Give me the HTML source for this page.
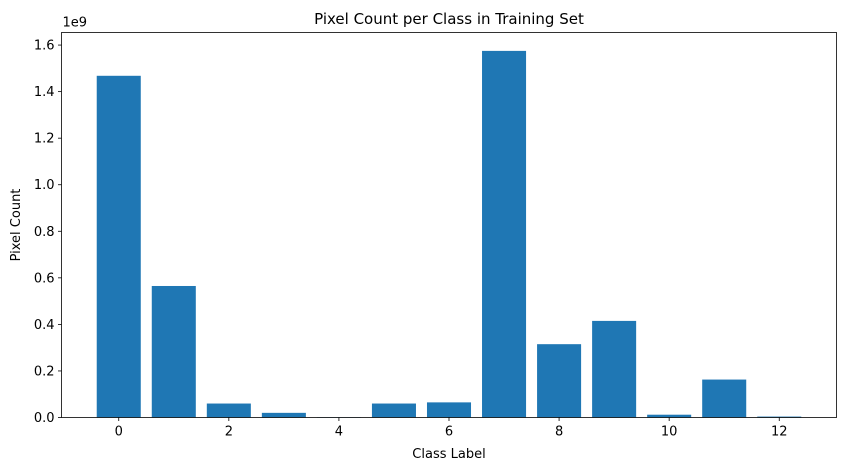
<!DOCTYPE html>
<html><head><meta charset="utf-8"><style>
body{margin:0;background:#fff;}
text{font-family:"DejaVu Sans","Liberation Sans",sans-serif;fill:#000;}
</style></head><body>
<svg id="chart" width="846" height="470" xmlns="http://www.w3.org/2000/svg">
<rect width="846" height="470" fill="#fff"/>
<g id="bars"></g>
<g id="axes"></g>
</svg>
<script>
const categories=[0,1,2,3,4,5,6,7,8,9,10,11,12];
const values=[1.468,0.565,0.06,0.02,0.001,0.06,0.065,1.575,0.315,0.415,0.012,0.163,0.004];
const yTicks=[0,0.2,0.4,0.6,0.8,1.0,1.2,1.4,1.6];
const xTicks=[0,2,4,6,8,10,12];
const L=61.5,R=836.5,T=32.5,B=417.5;
const xmin=-1.04,xmax=13.04,ymax=1.654;
const xs=v=>L+(v-xmin)/(xmax-xmin)*(R-L);
const ys=v=>B-v/ymax*(B-T);
const NS="http://www.w3.org/2000/svg";
function mk(tag,attrs,parent){const e=document.createElementNS(NS,tag);for(const k in attrs)e.setAttribute(k,attrs[k]);parent.appendChild(e);return e;}
const bars=document.getElementById('bars'),axes=document.getElementById('axes');
categories.forEach((c,i)=>{
  const x0=xs(c-0.4),x1=xs(c+0.4),y=ys(values[i]);
  const r=mk('rect',{x:x0,y:y,width:x1-x0,height:B-y,fill:'#1f77b4'},bars);
  
  
});
yTicks.forEach(t=>{
  const y=ys(t);
  mk('line',{x1:L-3.5,x2:L,y1:y,y2:y,stroke:'#000','stroke-width':0.8},axes);
  const tx=mk('text',{x:L-7,y:y+4.5,'text-anchor':'end','font-size':13},axes);
  tx.textContent=t.toFixed(1);
  
  
});
xTicks.forEach(t=>{
  const x=xs(t);
  mk('line',{x1:x,x2:x,y1:B,y2:B+3.5,stroke:'#000','stroke-width':0.8},axes);
  const tx=mk('text',{x:x,y:B+18,'text-anchor':'middle','font-size':13},axes);
  tx.textContent=t;
  
  
});
const fr=mk('rect',{x:L,y:T,width:R-L,height:B-T,fill:'none',stroke:'#000','stroke-width':0.8},axes);


const off=mk('text',{x:L+1,y:T-6,'font-size':13},axes);off.textContent='1e9';


const ti=mk('text',{x:(L+R)/2,y:24,'text-anchor':'middle','font-size':15},axes);ti.textContent='Pixel Count per Class in Training Set';


const xl=mk('text',{x:(L+R)/2,y:458,'text-anchor':'middle','font-size':13},axes);xl.textContent='Class Label';


const yl=mk('text',{x:20,y:(T+B)/2,'text-anchor':'middle','font-size':13,transform:'rotate(-90 20 '+((T+B)/2)+')'},axes);yl.textContent='Pixel Count';


</script>
</body></html>
